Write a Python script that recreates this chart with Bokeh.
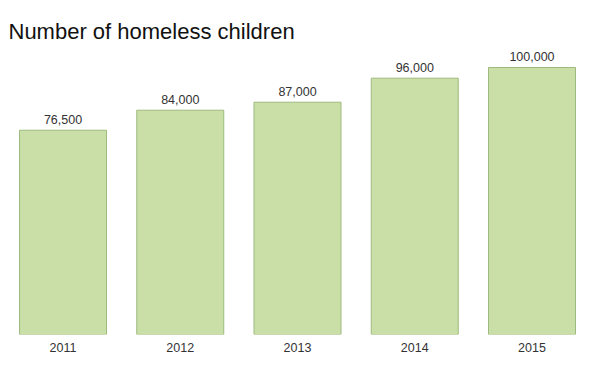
from bokeh.plotting import figure
from bokeh.models import ColumnDataSource, Range1d, FixedTicker, LabelSet, Label
from bokeh.core.properties import value
from bokeh.embed import file_html
from bokeh.resources import INLINE

years = ["2011", "2012", "2013", "2014", "2015"]
children = [76500, 84000, 87000, 96000, 100000]
labels = ["76,500", "84,000", "87,000", "96,000", "100,000"]
title_text = "Number of homeless children"

xs = list(range(len(years)))
source = ColumnDataSource(dict(x=xs, y=children, label=labels))

p = figure(width=600, height=358, output_backend="svg", toolbar_location=None,
           x_range=Range1d(-0.465, len(years) - 1 + 0.499),
           y_range=Range1d(0, max(children) * 1.2509),
           min_border_left=8, min_border_right=10, min_border_bottom=24, min_border_top=0)

p.vbar(x="x", top="y", width=0.742, source=source,
       fill_color="#cadfa8", line_color="#9dbb7c", line_width=1)

p.add_layout(LabelSet(x="x", y="y", text="label", source=source,
                      text_align="center", text_baseline="alphabetic", y_offset=6,
                      text_font=value("Liberation Sans"), text_font_size="12.5px",
                      text_color="#333333"))

p.add_layout(Label(x=0, y=303, x_units="screen", y_units="screen", text=title_text,
                   text_font="Liberation Sans", text_font_size="22px",
                   text_baseline="alphabetic", text_align="left", text_color="#111111"))

p.xaxis.ticker = FixedTicker(ticks=xs)
p.xaxis.major_label_overrides = {i: y for i, y in zip(xs, years)}
p.xaxis.axis_line_color = None
p.xaxis.major_tick_line_color = None
p.xaxis.minor_tick_line_color = None
p.xaxis.major_tick_out = 0
p.xaxis.major_tick_in = 0
p.xaxis.major_label_standoff = 8
p.xaxis.major_label_text_font = "Liberation Sans"
p.xaxis.major_label_text_font_size = "12.5px"
p.xaxis.major_label_text_color = "#333333"
p.yaxis.visible = False
p.xgrid.visible = False
p.ygrid.visible = False
p.outline_line_color = None

open("out.html", "w").write(file_html(p, INLINE))
